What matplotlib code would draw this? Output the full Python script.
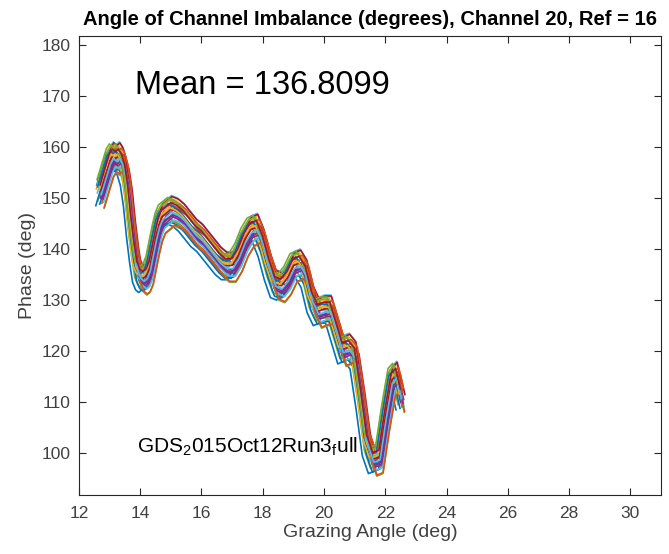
import matplotlib.pyplot as plt
import numpy as np

plt.rcParams['font.family'] = ['Liberation Sans', 'DejaVu Sans']
plt.rcParams['mathtext.fontset'] = 'custom'
plt.rcParams['mathtext.rm'] = 'Liberation Sans'

# centre of the band of traces
base_x = [12.70, 12.80, 12.90, 13.00, 13.10, 13.20, 13.30, 13.40, 13.50, 13.60,
          13.70, 13.80, 13.90, 14.00, 14.10, 14.20, 14.30, 14.40, 14.50, 14.60,
          14.70, 14.80, 14.90, 15.00, 15.20, 15.40, 15.60, 15.80, 16.00, 16.20,
          16.40, 16.60, 16.80, 17.00, 17.20, 17.40, 17.60, 17.80, 18.00, 18.20,
          18.40, 18.60, 18.80, 19.00, 19.20, 19.40, 19.60, 19.80, 20.00, 20.20,
          20.40, 20.60, 20.80, 21.00, 21.20, 21.40, 21.60, 21.80, 22.00, 22.20,
          22.35, 22.50]
base_y = [151.0, 153.0, 155.0, 157.0, 158.0, 157.5, 158.0, 157.0, 155.0, 151.0,
          145.0, 140.0, 136.0, 134.5, 134.0, 134.5, 136.0, 139.0, 142.0, 144.5,
          146.0, 146.5, 147.0, 147.5, 147.0, 146.0, 144.5, 143.0, 142.0, 140.5,
          139.0, 137.5, 136.5, 136.5, 138.5, 141.5, 143.5, 144.0, 141.0, 136.5,
          133.0, 132.5, 134.0, 136.5, 137.0, 135.0, 130.0, 127.5, 128.0, 128.0,
          124.0, 120.0, 120.5, 119.0, 111.0, 102.0, 98.5, 99.0, 107.0, 114.0,
          115.0, 111.0]

# per-trace shifts of the runs (estimated spread of the band)
trace_dx = [-0.12, 0.05, -0.03, 0.10, -0.08, 0.02, 0.14, -0.15, 0.07, -0.05,
            0.00, 0.12, -0.10, 0.04, -0.02, 0.09, -0.13, 0.06, -0.06, 0.11,
            0.01, -0.09, 0.13, -0.04, 0.08, -0.11, 0.03, -0.01]
trace_dy = [1.5, -2.0, 2.5, -0.5, -1.5, 3.0, 0.5, -2.5, 1.0, 2.0,
            -1.0, -3.0, 0.0, 2.8, -2.2, 1.8, 0.8, -0.8, 2.2, -1.8,
            0.3, 1.2, -2.8, 0.6, -1.2, 2.6, -0.3, 1.6]

mean_val = 136.8099
colors = ['#0072BD', '#D95319', '#EDB120', '#7E2F8E', '#77AC30', '#4DBEEE', '#A2142F']

fig = plt.figure(figsize=(6.69, 5.54), dpi=100)
ax = fig.add_axes([0.118, 0.1065, 0.870, 0.829])

bx = np.array(base_x)
by = np.array(base_y)
for i in range(len(trace_dx)):
    ax.plot(bx + trace_dx[i], by + trace_dy[i], color=colors[i % 7], lw=1.2)

ax.set_xlim(12, 31)
ax.set_ylim(mean_val - 45, mean_val + 45)
ax.set_xticks(np.arange(12, 31, 2))
ax.set_yticks(np.arange(100, 181, 10))
ax.tick_params(direction='in', top=True, right=True, length=5,
               labelsize=12.5, colors='#262626', labelcolor='#404040')
ax.tick_params(axis='x', pad=8)
ax.tick_params(axis='y', pad=6)
for s in ax.spines.values():
    s.set_color('#262626')

ax.text(13.82, 172.1, 'Mean = %.4f' % mean_val, fontsize=23.5, va='center', color='black')
ax.text(13.89, 101.2, 'GDS$_\\mathrm{2}$015Oct12Run3$_\\mathrm{f}$ull', fontsize=15,
        va='center', color='black')

ax.set_title('Angle of Channel Imbalance (degrees), Channel 20, Ref = 16',
             fontsize=14.5, fontweight='bold', pad=8)
ax.set_xlabel('Grazing Angle (deg)', fontsize=14, color='#404040', labelpad=2)
ax.set_ylabel('Phase (deg)', fontsize=14, color='#404040', labelpad=4)

fig.savefig('out.png', dpi=100)
